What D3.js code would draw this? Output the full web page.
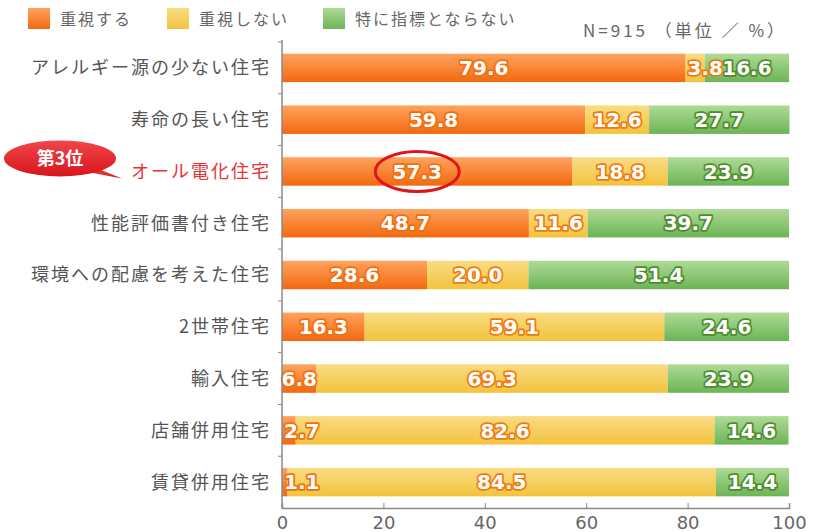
<!DOCTYPE html>
<html>
<head>
<meta charset="utf-8">
<script src="https://cdn.jsdelivr.net/npm/d3@7"></script>
<style>
  body { margin: 0; background: #fff; }
  svg text { font-family: "Noto Sans CJK JP", "Noto Sans", sans-serif; }
</style>
</head>
<body>
<div id="chart"></div>
<script>
// Data
const categories = [
    "アレルギー源の少ない住宅",
    "寿命の長い住宅",
    "オール電化住宅",
    "性能評価書付き住宅",
    "環境への配慮を考えた住宅",
    "2世帯住宅",
    "輸入住宅",
    "店舗併用住宅",
    "賃貸併用住宅"
];
const seriesNames = ["重視する", "重視しない", "特に指標とならない"];
const important = [79.6, 59.8, 57.3, 48.7, 28.6, 16.3, 6.8, 2.7, 1.1];
const notImportant = [3.8, 12.6, 18.8, 11.6, 20.0, 59.1, 69.3, 82.6, 84.5];
const noIndicator = [16.6, 27.7, 23.9, 39.7, 51.4, 24.6, 23.9, 14.6, 14.4];
const xTicks = [0, 20, 40, 60, 80, 100];
const highlighted = "オール電化住宅";
const noteText = "N=915 （単位 ／ %）";
const rankText = "第3位";

const W = 814, H = 532;
const margin = {top: 42, right: 25, bottom: 24, left: 282};

const svg = d3.select("#chart").append("svg")
    .attr("width", W)
    .attr("height", H);

const defs = svg.append("defs");
const palette = [
    {id: "gOrange", top: "#ffa35e", bottom: "#f2690f", stroke: "#f0700f", ink: "#fff"},
    {id: "gYellow", top: "#f9dc84", bottom: "#f2c33c", stroke: "#f07a10", ink: "#fff"},
    {id: "gGreen", top: "#aedb96", bottom: "#6cb456", stroke: "#4f8c2c", ink: "#fff"}
];
palette.forEach(p => {
    const lg = defs.append("linearGradient")
        .attr("id", p.id)
        .attr("x1", 0).attr("x2", 0).attr("y1", 0).attr("y2", 1);
    lg.append("stop").attr("offset", "0%").attr("stop-color", p.top);
    lg.append("stop").attr("offset", "100%").attr("stop-color", p.bottom);
});
const bubble = defs.append("linearGradient")
    .attr("id", "gRed")
    .attr("x1", 0).attr("x2", 0).attr("y1", 0).attr("y2", 1);
bubble.append("stop").attr("offset", "0%").attr("stop-color", "#f0464a");
bubble.append("stop").attr("offset", "100%").attr("stop-color", "#d8141c");

// Scales
const x = d3.scaleLinear()
    .domain([0, 100])
    .range([margin.left, 789]);

const y = d3.scaleBand()
    .domain(categories)
    .range([margin.top, H - margin.bottom])
    .paddingInner(0.45)
    .paddingOuter(0.225);

// Stack the three series
const rows = categories.map((c, i) => ({
    cat: c,
    [seriesNames[0]]: important[i],
    [seriesNames[1]]: notImportant[i],
    [seriesNames[2]]: noIndicator[i]
}));
const stacked = d3.stack().keys(seriesNames)(rows);

// Bars
const layers = svg.append("g")
    .selectAll("g")
    .data(stacked)
    .join("g")
    .attr("fill", (d, i) => `url(#${palette[i].id})`);

layers.selectAll("rect")
    .data(d => d)
    .join("rect")
    .attr("x", d => x(d[0]))
    .attr("y", d => y(d.data.cat))
    .attr("width", d => x(d[1]) - x(d[0]))
    .attr("height", y.bandwidth());

// Value labels (white with coloured outline)
const labelSize = 20;
stacked.forEach((layer, li) => {
    const g = svg.append("g");
    layer.forEach(d => {
        const v = d[1] - d[0];
        const segW = x(d[1]) - x(d[0]);
        const small = segW < 34;
        const t = g.append("text")
            .attr("x", small ? x(d[0]) + 2 : (x(d[0]) + x(d[1])) / 2)
            .attr("y", y(d.data.cat) + y.bandwidth() / 2)
            .attr("dy", "0.36em")
            .attr("text-anchor", small ? "start" : "middle")
            .style("font-family", "'DejaVu Sans', sans-serif")
            .style("font-weight", "bold")
            .style("font-size", labelSize + "px")
            .style("fill", palette[li].ink)
            .style("stroke", palette[li].stroke)
            .style("stroke-width", 3.5)
            .style("stroke-linejoin", "round")
            .style("paint-order", "stroke")
            .text(v.toFixed(1));
        if (d.data.cat === highlighted && li === 0) {
            const cx = (x(d[0]) + x(d[1])) / 2 - 10;
            svg.append("ellipse")
                .attr("cx", cx)
                .attr("cy", y(d.data.cat) + y.bandwidth() / 2)
                .attr("rx", 42)
                .attr("ry", 20)
                .attr("fill", "none")
                .attr("stroke", "#e0141c")
                .attr("stroke-width", 3);
            t.attr("x", cx);
        }
    });
});

// Axes
const axisColor = "#8a8a8a";
const yAxisG = svg.append("g");
yAxisG.append("line")
    .attr("x1", margin.left).attr("x2", margin.left)
    .attr("y1", margin.top - 2).attr("y2", H - margin.bottom)
    .attr("stroke", axisColor).attr("stroke-width", 1.5);
// ticks between the rows
const step = y.step();
const boundaries = categories.map(c => y(c) - step * y.paddingInner() / 2);
yAxisG.selectAll("line.tk")
    .data(boundaries)
    .join("line")
    .attr("class", "tk")
    .attr("x1", margin.left - 4).attr("x2", margin.left)
    .attr("y1", d => d).attr("y2", d => d)
    .attr("stroke", axisColor);

// category labels
svg.append("g")
    .selectAll("text")
    .data(categories)
    .join("text")
    .attr("x", 271)
    .attr("y", d => y(d) + y.bandwidth() / 2)
    .attr("dy", "0.36em")
    .attr("text-anchor", "end")
    .style("font-size", "18px")
    .style("letter-spacing", "2px")
    .style("fill", d => d === highlighted ? "#e8323a" : "#555")
    .text(d => d);

const xAxis = d3.axisBottom(x)
    .tickValues(xTicks)
    .tickSize(-5)
    .tickPadding(8);
const xAxisG = svg.append("g")
    .attr("transform", `translate(0,${H - margin.bottom})`)
    .call(xAxis);
xAxisG.select(".domain").attr("stroke", axisColor).attr("stroke-width", 1.5);
xAxisG.selectAll(".tick line").attr("stroke", axisColor);
xAxisG.selectAll(".tick text")
    .style("font-family", "'DejaVu Sans', sans-serif")
    .style("font-size", "18px")
    .style("fill", "#666");

// Legend
const legend = svg.append("g");
const legendX = [28, 167, 323];
seriesNames.forEach((s, i) => {
    legend.append("rect")
        .attr("x", legendX[i]).attr("y", 8)
        .attr("width", 22).attr("height", 21)
        .attr("fill", `url(#${palette[i].id})`);
    legend.append("text")
        .attr("x", legendX[i] + 32).attr("y", 19)
        .attr("dy", "0.36em")
        .style("font-size", "16px")
        .style("letter-spacing", "2px")
        .style("fill", "#666")
        .text(s);
});
svg.append("text")
    .attr("x", 583).attr("y", 31)
    .attr("dy", "0.36em")
    .style("font-size", "17px")
    .style("letter-spacing", "3px")
    .style("fill", "#666")
    .text(noteText);

// "第3位" callout bubble
const hy = y(highlighted) + y.bandwidth() / 2;
const callout = svg.append("g");
callout.append("path")
    .attr("d", `M 95 ${hy - 4} L 122 ${hy + 7} L 80 ${hy - 1} Z`)
    .attr("fill", "url(#gRed)");
callout.append("ellipse")
    .attr("cx", 60).attr("cy", hy - 13)
    .attr("rx", 56).attr("ry", 18)
    .attr("fill", "url(#gRed)");
callout.append("text")
    .attr("x", 60).attr("y", hy - 13)
    .attr("dy", "0.36em")
    .attr("text-anchor", "middle")
    .style("font-size", "18px")
    .style("font-weight", "bold")
    .style("fill", "#fff")
    .text(rankText);
</script>
</body>
</html>
